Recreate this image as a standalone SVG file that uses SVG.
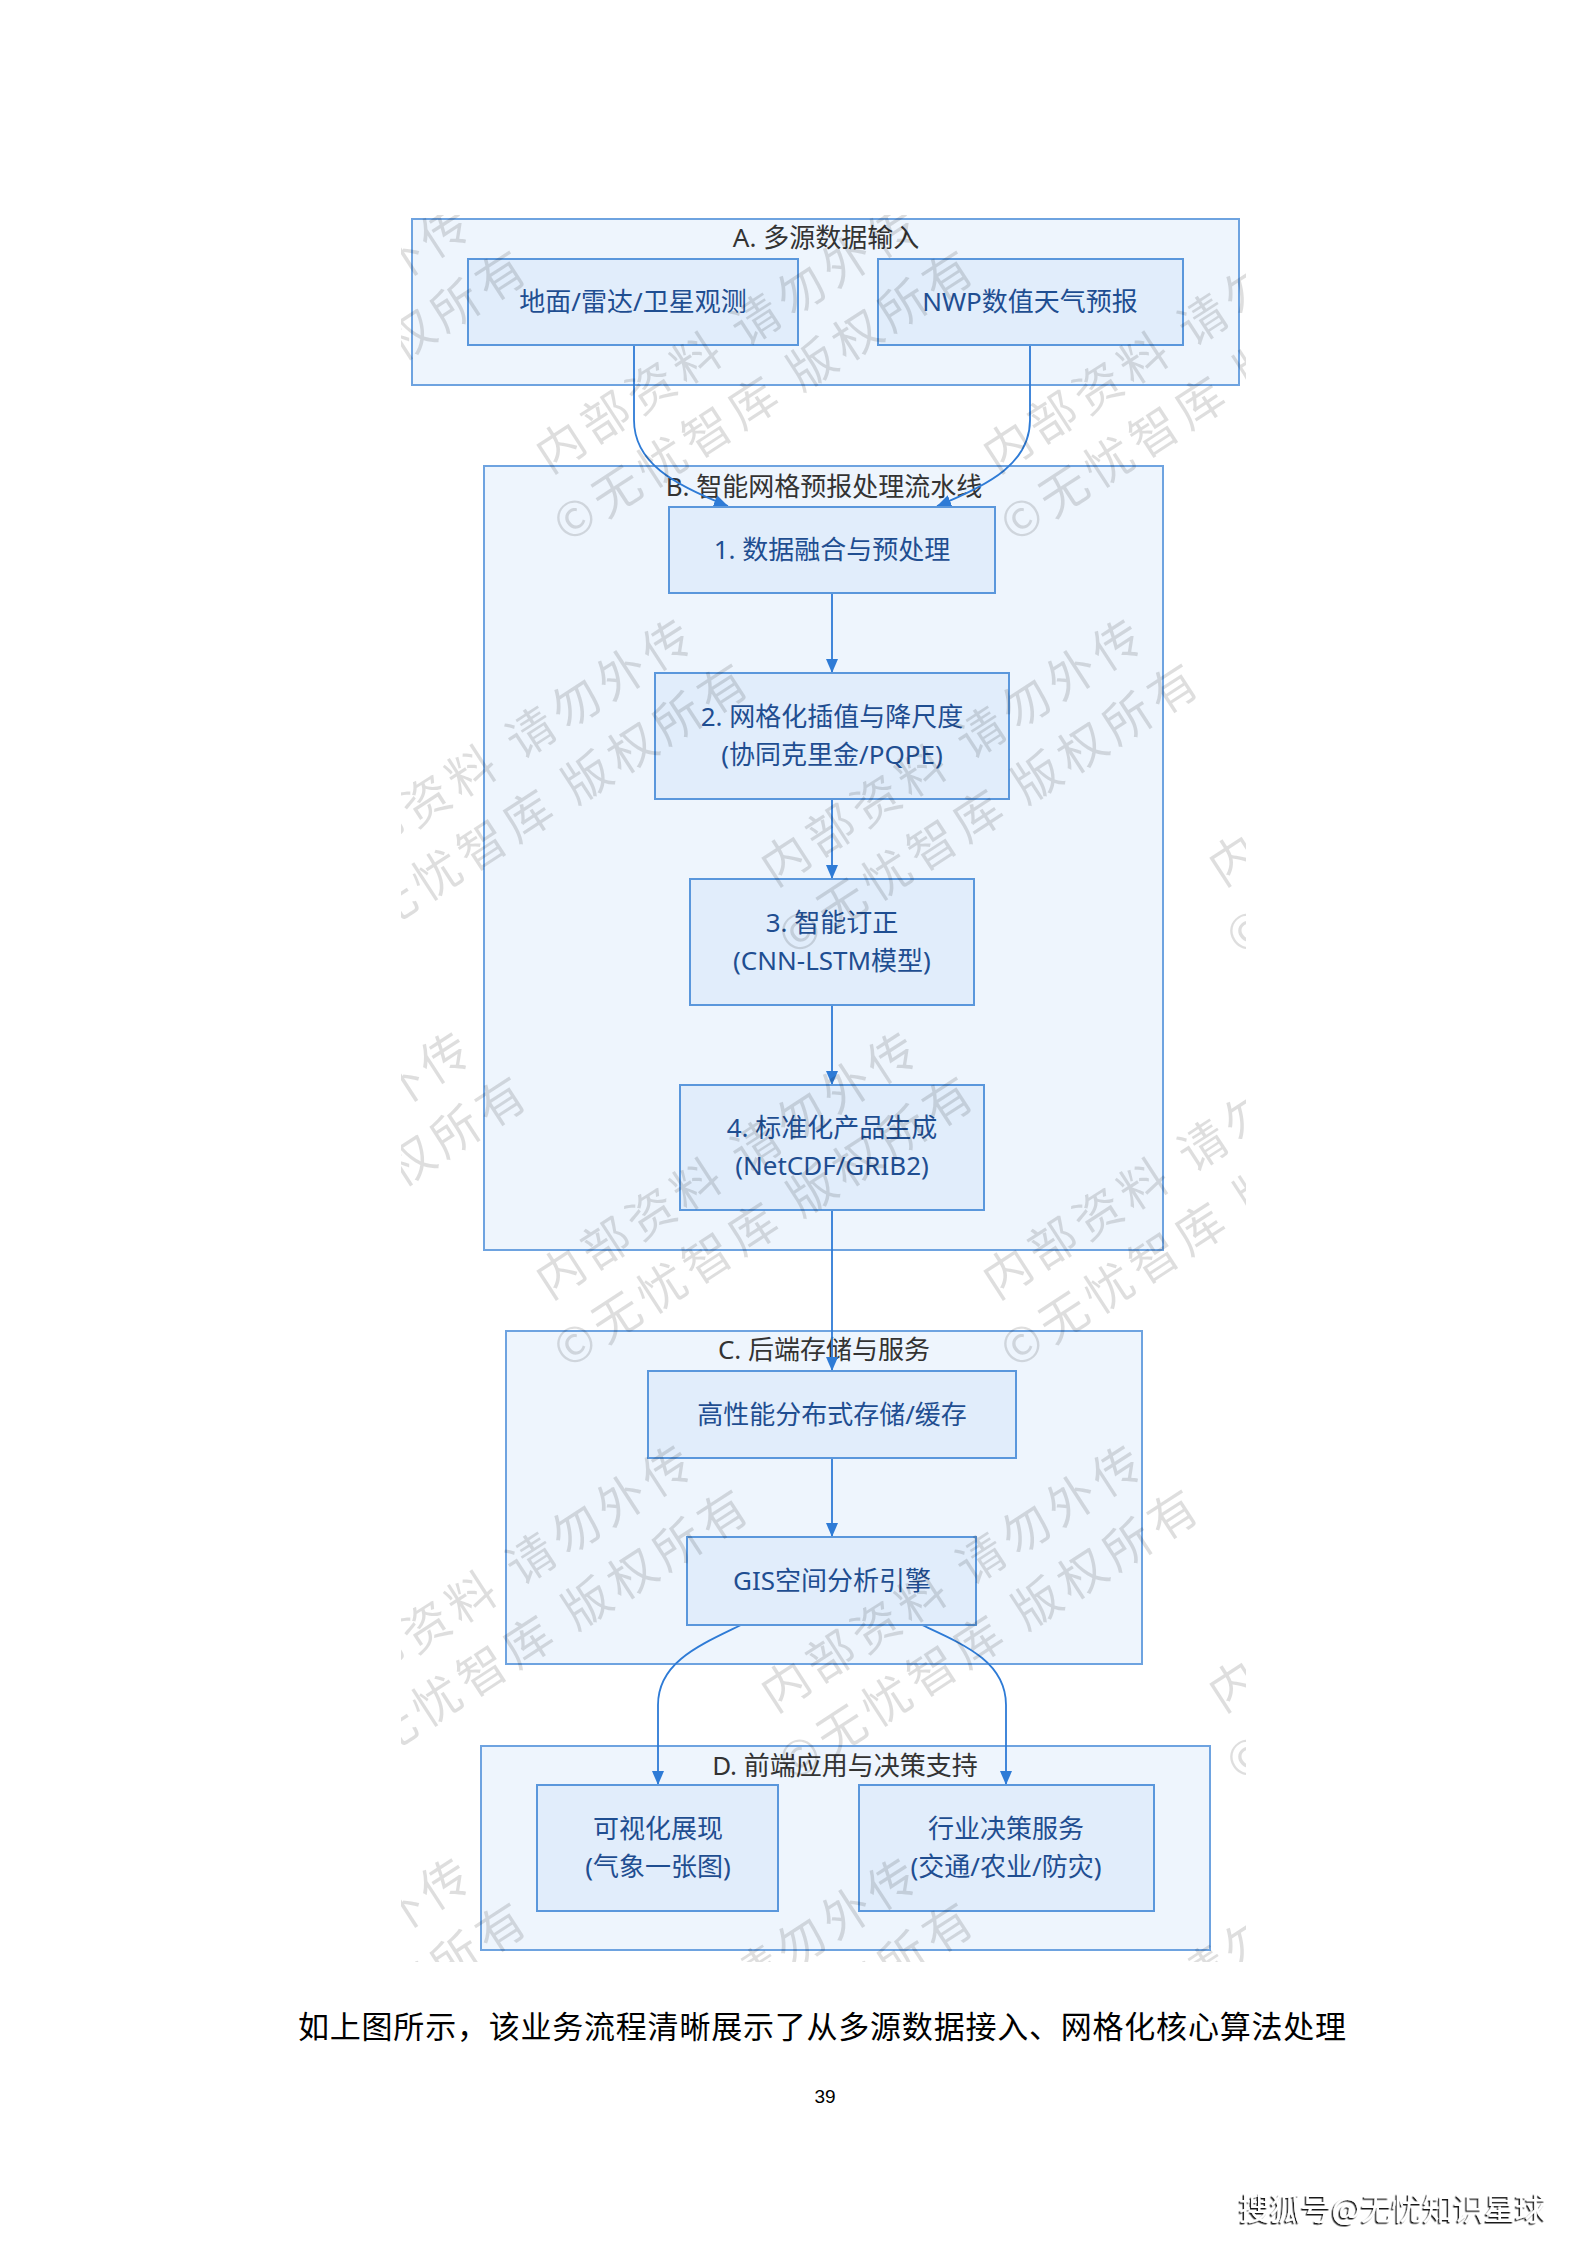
<svg xmlns="http://www.w3.org/2000/svg" width="1587" height="2245" viewBox="0 0 1587 2245">
<style>
.cl{fill:#eef5fd;stroke:#6ea3e0;stroke-width:2}
.nd{fill:#e1edfb;stroke:#5a97dc;stroke-width:2}
.nt{font-family:"Noto Sans","Noto Sans CJK SC",sans-serif;font-size:26px;fill:#1f4e91;text-anchor:middle;dominant-baseline:central}
.ct{font-family:"Noto Sans","Noto Sans CJK SC",sans-serif;font-size:26px;fill:#333;text-anchor:middle;dominant-baseline:central}
.edge{fill:none;stroke:#2e7bd6;stroke-width:1.8;marker-end:url(#arr)}
.wm text{font-family:"Noto Sans CJK SC",sans-serif;font-size:48px;fill:#000;fill-opacity:0.13;text-anchor:middle;letter-spacing:6px;dominant-baseline:central}
</style>
<defs>
<marker id="arr" markerUnits="userSpaceOnUse" markerWidth="14" markerHeight="12" viewBox="0 0 14 12" refX="14" refY="6" orient="auto"><path d="M0,0 L14,6 L0,12 z" fill="#2e7bd6"/></marker>
<clipPath id="wmclip"><rect x="401" y="215" width="845" height="1747"/></clipPath>
<filter id="shadow" x="-5%" y="-20%" width="110%" height="140%"><feDropShadow dx="-1.5" dy="1.5" stdDeviation="0.4" flood-color="#000" flood-opacity="0.9"/></filter>
</defs>
<rect width="1587" height="2245" fill="#fff"/>

<g id="clusterA"><rect class="cl" x="412" y="219" width="827" height="166"/><text class="ct" x="826" y="237">A. 多源数据输入</text></g>
<g id="clusterB"><rect class="cl" x="484" y="466" width="679" height="784"/><text class="ct" x="824" y="486">B. 智能网格预报处理流水线</text></g>
<g id="clusterC"><rect class="cl" x="506" y="1331" width="636" height="333"/><text class="ct" x="824" y="1349">C. 后端存储与服务</text></g>
<g id="clusterD"><rect class="cl" x="481" y="1746" width="729" height="204"/><text class="ct" x="845" y="1765">D. 前端应用与决策支持</text></g>

<g id="connectors">
<path class="edge" d="M634,345 L634,420 C634,462 672,484 728,506"/>
<path class="edge" d="M1030,345 L1030,420 C1030,462 992,484 937,506"/>
<path class="edge" d="M832,593 L832,673"/>
<path class="edge" d="M832,799 L832,879"/>
<path class="edge" d="M832,1005 L832,1085"/>
<path class="edge" d="M832,1210 L832,1371"/>
<path class="edge" d="M832,1458 L832,1537"/>
<path class="edge" d="M741,1625 C700,1645 658,1662 658,1705 L658,1785"/>
<path class="edge" d="M922,1625 C965,1645 1006,1662 1006,1705 L1006,1785"/>
</g>

<g id="n_obs"><rect class="nd" x="468" y="259" width="330" height="86"/><text class="nt" x="633" y="301">地面/雷达/卫星观测</text></g>
<g id="n_nwp"><rect class="nd" x="878" y="259" width="305" height="86"/><text class="nt" x="1030" y="301">NWP数值天气预报</text></g>
<g id="n_1"><rect class="nd" x="669" y="507" width="326" height="86"/><text class="nt" x="832" y="549">1. 数据融合与预处理</text></g>
<g id="n_2"><rect class="nd" x="655" y="673" width="354" height="126"/><text class="nt" x="832" y="716">2. 网格化插值与降尺度</text><text class="nt" x="832" y="754">(协同克里金/PQPE)</text></g>
<g id="n_3"><rect class="nd" x="690" y="879" width="284" height="126"/><text class="nt" x="832" y="922">3. 智能订正</text><text class="nt" x="832" y="960">(CNN-LSTM模型)</text></g>
<g id="n_4"><rect class="nd" x="680" y="1085" width="304" height="125"/><text class="nt" x="832" y="1127">4. 标准化产品生成</text><text class="nt" x="832" y="1165">(NetCDF/GRIB2)</text></g>
<g id="n_store"><rect class="nd" x="648" y="1371" width="368" height="87"/><text class="nt" x="832" y="1414">高性能分布式存储/缓存</text></g>
<g id="n_gis"><rect class="nd" x="687" y="1537" width="289" height="88"/><text class="nt" x="832" y="1580">GIS空间分析引擎</text></g>
<g id="n_vis"><rect class="nd" x="537" y="1785" width="241" height="126"/><text class="nt" x="658" y="1828">可视化展现</text><text class="nt" x="658" y="1866">(气象一张图)</text></g>
<g id="n_dec"><rect class="nd" x="859" y="1785" width="295" height="126"/><text class="nt" x="1006" y="1828">行业决策服务</text><text class="nt" x="1006" y="1866">(交通/农业/防灾)</text></g>

<g class="wm" clip-path="url(#wmclip)">
<g transform="translate(298,363) rotate(-33)"><text y="-34">内部资料 请勿外传</text><text y="34">©无忧智库 版权所有</text></g>
<g transform="translate(745,363) rotate(-33)"><text y="-34">内部资料 请勿外传</text><text y="34">©无忧智库 版权所有</text></g>
<g transform="translate(1192,363) rotate(-33)"><text y="-34">内部资料 请勿外传</text><text y="34">©无忧智库 版权所有</text></g>
<g transform="translate(520,776) rotate(-33)"><text y="-34">内部资料 请勿外传</text><text y="34">©无忧智库 版权所有</text></g>
<g transform="translate(970,776) rotate(-33)"><text y="-34">内部资料 请勿外传</text><text y="34">©无忧智库 版权所有</text></g>
<g transform="translate(1418,776) rotate(-33)"><text y="-34">内部资料 请勿外传</text><text y="34">©无忧智库 版权所有</text></g>
<g transform="translate(298,1189) rotate(-33)"><text y="-34">内部资料 请勿外传</text><text y="34">©无忧智库 版权所有</text></g>
<g transform="translate(745,1189) rotate(-33)"><text y="-34">内部资料 请勿外传</text><text y="34">©无忧智库 版权所有</text></g>
<g transform="translate(1192,1189) rotate(-33)"><text y="-34">内部资料 请勿外传</text><text y="34">©无忧智库 版权所有</text></g>
<g transform="translate(520,1602) rotate(-33)"><text y="-34">内部资料 请勿外传</text><text y="34">©无忧智库 版权所有</text></g>
<g transform="translate(970,1602) rotate(-33)"><text y="-34">内部资料 请勿外传</text><text y="34">©无忧智库 版权所有</text></g>
<g transform="translate(1418,1602) rotate(-33)"><text y="-34">内部资料 请勿外传</text><text y="34">©无忧智库 版权所有</text></g>
<g transform="translate(298,2015) rotate(-33)"><text y="-34">内部资料 请勿外传</text><text y="34">©无忧智库 版权所有</text></g>
<g transform="translate(745,2015) rotate(-33)"><text y="-34">内部资料 请勿外传</text><text y="34">©无忧智库 版权所有</text></g>
<g transform="translate(1192,2015) rotate(-33)"><text y="-34">内部资料 请勿外传</text><text y="34">©无忧智库 版权所有</text></g>
</g>

<text x="298" y="2038" font-family="'Liberation Serif','Noto Sans CJK SC',serif" font-size="31" fill="#000" textLength="1048" lengthAdjust="spacing">如上图所示，该业务流程清晰展示了从多源数据接入、网格化核心算法处理</text>
<text x="825" y="2103" font-family="'Liberation Sans',sans-serif" font-size="19" fill="#000" text-anchor="middle">39</text>
<text x="1239" y="2220" font-family="'Noto Sans CJK SC',sans-serif" font-size="31" fill="#fff" filter="url(#shadow)" textLength="307" lengthAdjust="spacing">搜狐号@无忧知识星球</text>
</svg>
